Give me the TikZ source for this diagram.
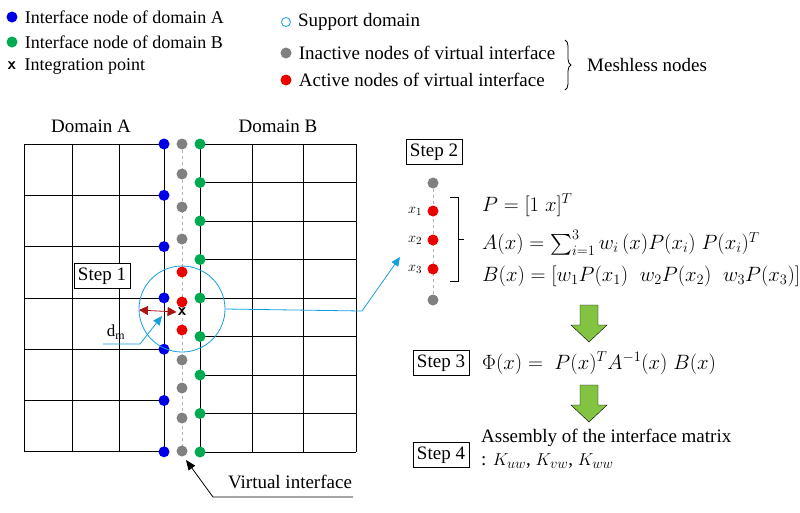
\documentclass[tikz,border=0pt]{standalone}
\usepackage{amsmath}
\usepackage{fontspec}
\setmainfont{Liberation Serif}
\usetikzlibrary{positioning}
\usetikzlibrary{calc}
\usetikzlibrary{arrows.meta,shapes,decorations.pathreplacing}
\definecolor{nodeA}{RGB}{0,0,230}
\definecolor{nodeB}{RGB}{0,170,80}
\definecolor{inact}{RGB}{128,128,128}
\definecolor{act}{RGB}{235,0,0}
\definecolor{supp}{RGB}{20,160,220}
\definecolor{darr}{RGB}{170,20,20}
\definecolor{garr}{RGB}{130,195,65}
\tikzset{
  dot/.style={circle,inner sep=0pt,minimum size=11pt,fill=#1},
  stepbox/.style={draw,thick,inner sep=4pt,font=\fontsize{19}{21}\selectfont},
  txt/.style={inner sep=1pt,font=\fontsize{19}{21}\selectfont},
  eq/.style={inner sep=0pt,anchor=west,font=\fontsize{21}{23}\selectfont},
  bigarrow/.style={fill=garr}
}
\begin{document}
\begin{tikzpicture}[x=1pt,y=-1pt]
\useasboundingbox (0,0) rectangle (800,512);

% legend
\node[dot=nodeA] (lA) at (12,17) {};
\node[txt,right=6pt of lA,font=\fontsize{18}{20}\selectfont] {Interface node of domain A};
\node[dot=nodeB] (lB) at (12,42) {};
\node[txt,right=6pt of lB,font=\fontsize{18}{20}\selectfont] {Interface node of domain B};
\node[txt,font=\fontsize{17}{19}\selectfont\sffamily\bfseries] (lX) at (12,66) {x};
\node[txt,right=6pt of lX,font=\fontsize{18}{20}\selectfont] {Integration point};
\node[circle,draw=supp,thick,inner sep=0pt,minimum size=9pt] (lS) at (286,22) {};
\node[txt,right=6pt of lS] {Support domain};
\node[dot=inact] (lI) at (286,53) {};
\node[txt,right=6pt of lI] (tI) {Inactive nodes of virtual interface};
\node[dot=act] (lR) at (286,80) {};
\node[txt,right=6pt of lR] {Active nodes of virtual interface};
\draw[thick,decorate,decoration={brace,amplitude=6pt}] (565,40) -- (565,90);
\node[txt,anchor=west] (mesh) at (586,65) {Meshless nodes};

% domain A mesh
\node[txt] (dA) at (91,126) {Domain A};
\node[txt] (dB) at (278,126) {Domain B};
\foreach \y in {144,195.3,...,452}
  \draw[thick] (24,\y) -- (164,\y);
\foreach \x in {24,72,119,164}
  \draw[thick] (\x,144) -- (\x,452);
% domain B mesh
\foreach \y in {144,182.5,...,452}
  \draw[thick] (200,\y) -- (356,\y);
\foreach \x in {200,252,303,356}
  \draw[thick] (\x,144) -- (\x,452);

% virtual interface
\draw[inact!60,dashed] (182,144) -- (182,452);
\foreach \y in {144,174,207,239,360,388,418,451}
  \node[dot=inact] at (182,\y) {};
\foreach \y in {272,302,330}
  \node[dot=act] at (182,\y) {};
\foreach \y in {144,195.3,...,452}
  \node[dot=nodeA] at (164,\y) {};
\foreach \y in {144,182.5,...,452}
  \node[dot=nodeB] at (200,\y) {};

% support domain
\node[circle,draw=supp,thick,minimum size=86pt,inner sep=0pt] (sd) at (182,309) {};
\node[txt,font=\fontsize{17}{19}\selectfont\sffamily\bfseries] (ip) at (182,312) {x};
\coordinate (dl) at (139,310);
\draw[darr,thick,{Triangle[length=9pt,width=9pt]}-{Triangle[length=9pt,width=9pt]}] (dl) -- (ip.west);
\node[stepbox,fill=white] (s1) at (102,276) {Step 1};
\node[txt,font=\fontsize{17}{19}\selectfont] (dm) at (116,332) {d$_{\text{m}}$};
\coordinate (dm0) at (103,344);
\coordinate (dm1) at (140,344);
\coordinate (dm2) at (162,316);
\draw[supp,thick,-{Triangle[length=9pt,width=8pt]}] (dm0) -- (dm1) -- (dm2);

% step 2
\node[stepbox] (s2) at (434,152) {Step 2};
\coordinate (c1) at (362,311);
\coordinate (c2) at (400,257);
\draw[supp,thick,-{Triangle[length=9pt,width=8pt]}] (sd.east) -- (c1) -- (c2);
\draw[inact!60,dashed] (433,183) -- (433,300);
\node[dot=inact] (g1) at (433,183) {};
\node[dot=inact] (g2) at (433,300) {};
\foreach \y/\i in {211/1,240/2,269/3} {
  \node[dot=act] (x\i) at (433,\y) {};
  \node[txt,left=4pt of x\i,font=\fontsize{15}{17}\selectfont] {$x_\i$};
}
\draw[thick] (450,197) -- (458,197) -- (458,281) -- (450,281);
\draw[thick] (458,239) -- (464,239);
\node[eq] (eqP) at (482,205) {$P=[1\;x]^T$};
\node[eq] (eqA) at (482,243) {$A(x)=\textstyle\sum_{i=1}^{3}w_i\,(x)P(x_i)\;P(x_i)^T$};
\node[eq] (eqB) at (482,276) {$B(x)=[w_1P(x_1)\;\;w_2P(x_2)\;\;w_3P(x_3)]$};

% steps 3 and 4
\draw[bigarrow] (580,305) -- (598,305) -- (598,325) -- (607,325) -- (589,342) -- (571,325) -- (580,325) -- cycle;
\node[stepbox] (s3) at (441,363) {Step 3};
\node[eq] (eqF) at (482,363) {$\Phi(x)=\;P(x)^TA^{-1}(x)\;B(x)$};
\draw[bigarrow] (580,385) -- (598,385) -- (598,405) -- (607,405) -- (589,422) -- (571,405) -- (580,405) -- cycle;
\node[stepbox] (s4) at (441,455) {Step 4};
\node[txt,anchor=west] (as1) at (480,438) {Assembly of the interface matrix};
\node[txt,anchor=west] (as2) at (480,461) {: $K_{uw}$, $K_{vw}$, $K_{ww}$};

% virtual interface label
\node[txt] (vi) at (290,482) {Virtual interface};
\coordinate (v1) at (353,497);
\coordinate (v2) at (213,497);
\coordinate (v3) at (186,460);
\draw[thick,-{Triangle[length=10pt,width=8pt]}] (v1) -- (v2) -- (v3);
\end{tikzpicture}
\end{document}
